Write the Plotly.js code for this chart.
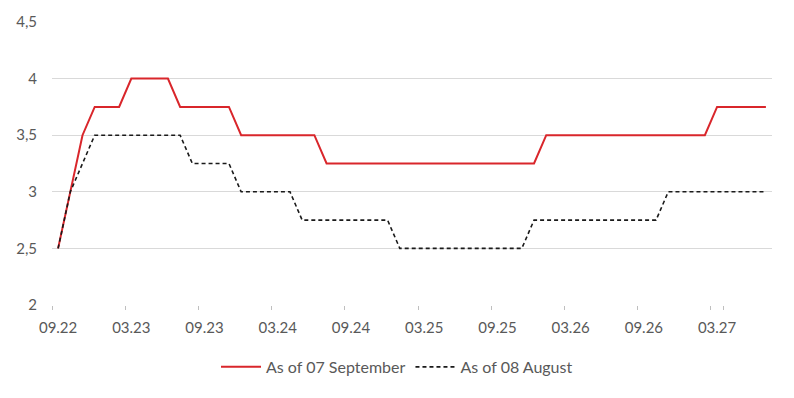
<!DOCTYPE html>
<html>
<head>
<meta charset="utf-8">
<script src="https://cdn.plot.ly/plotly-3.0.1.min.js"></script>
<style>html,body{margin:0;padding:0;background:#fff}#chart{width:794px;height:398px}</style>
</head>
<body>
<div id="chart"></div>
<script>
const months = [
  "09.22","10.22","11.22","12.22","01.23","02.23","03.23","04.23","05.23","06.23","07.23","08.23",
  "09.23","10.23","11.23","12.23","01.24","02.24","03.24","04.24","05.24","06.24","07.24","08.24",
  "09.24","10.24","11.24","12.24","01.25","02.25","03.25","04.25","05.25","06.25","07.25","08.25",
  "09.25","10.25","11.25","12.25","01.26","02.26","03.26","04.26","05.26","06.26","07.26","08.26",
  "09.26","10.26","11.26","12.26","01.27","02.27","03.27","04.27","05.27","06.27","07.27"
];
const asOfSeptember = [
  2.5,3.0,3.5,3.75,3.75,3.75,4.0,4.0,4.0,4.0,3.75,3.75,
  3.75,3.75,3.75,3.5,3.5,3.5,3.5,3.5,3.5,3.5,3.25,3.25,
  3.25,3.25,3.25,3.25,3.25,3.25,3.25,3.25,3.25,3.25,3.25,3.25,
  3.25,3.25,3.25,3.25,3.5,3.5,3.5,3.5,3.5,3.5,3.5,3.5,
  3.5,3.5,3.5,3.5,3.5,3.5,3.75,3.75,3.75,3.75,3.75
];
const asOfAugust = [
  2.5,3.0,3.25,3.5,3.5,3.5,3.5,3.5,3.5,3.5,3.5,3.25,
  3.25,3.25,3.25,3.0,3.0,3.0,3.0,3.0,2.75,2.75,2.75,2.75,
  2.75,2.75,2.75,2.75,2.5,2.5,2.5,2.5,2.5,2.5,2.5,2.5,
  2.5,2.5,2.5,2.75,2.75,2.75,2.75,2.75,2.75,2.75,2.75,2.75,
  2.75,2.75,3.0,3.0,3.0,3.0,3.0,3.0,3.0,3.0,3.0
];
const seriesNames = ["As of 07 September", "As of 08 August"];
const xTickLabels = ["09.22","03.23","09.23","03.24","09.24","03.25","09.25","03.26","09.26","03.27"];
const yTicks = [2, 2.5, 3, 3.5, 4, 4.5];

const traces = [
  {x: months, y: asOfSeptember, name: seriesNames[0], type: "scatter", mode: "lines",
   line: {color: "#d9262b", width: 2}},
  {x: months, y: asOfAugust, name: seriesNames[1], type: "scatter", mode: "lines",
   line: {color: "#1a1a1a", width: 1.6, dash: "4px,3px"}}
];

const layout = {
  width: 794, height: 398,
  margin: {l: 52, r: 22, t: 22, b: 93},
  paper_bgcolor: "#ffffff", plot_bgcolor: "#ffffff",
  separators: ", ",
  font: {family: "Lato, 'Open Sans', sans-serif", size: 15, color: "#595959"},
  showlegend: true,
  legend: {orientation: "h", xref: "container", yref: "container", x: 0.5, xanchor: "center",
           y: 0.078, yanchor: "middle", font: {size: 16, color: "#595959"},
           itemwidth: 40, tracegroupgap: 0, traceorder: "normal"},
  xaxis: {
    type: "category", categoryorder: "array", categoryarray: months,
    range: [-0.5, months.length - 0.5],
    tickmode: "array", tickvals: xTickLabels, ticktext: xTickLabels,
    tickson: "boundaries", tickangle: 0,
    ticks: "outside", ticklen: 4, tickcolor: "#bfbfbf", tickwidth: 1,
    showgrid: false, showline: false, zeroline: false,
    ticklabelstandoff: 12,
    tickfont: {size: 15, color: "#595959"}
  },
  yaxis: {
    range: [2, 4.5], tickmode: "array", tickvals: yTicks,
    showgrid: true, gridcolor: "#d9d9d9", gridwidth: 1,
    zeroline: false, showline: false, ticks: "",
    ticklabelstandoff: 14,
    tickfont: {size: 15, color: "#595959"}
  }
};

Plotly.newPlot("chart", traces, layout, {displayModeBar: false, staticPlot: true});
</script>
</body>
</html>
